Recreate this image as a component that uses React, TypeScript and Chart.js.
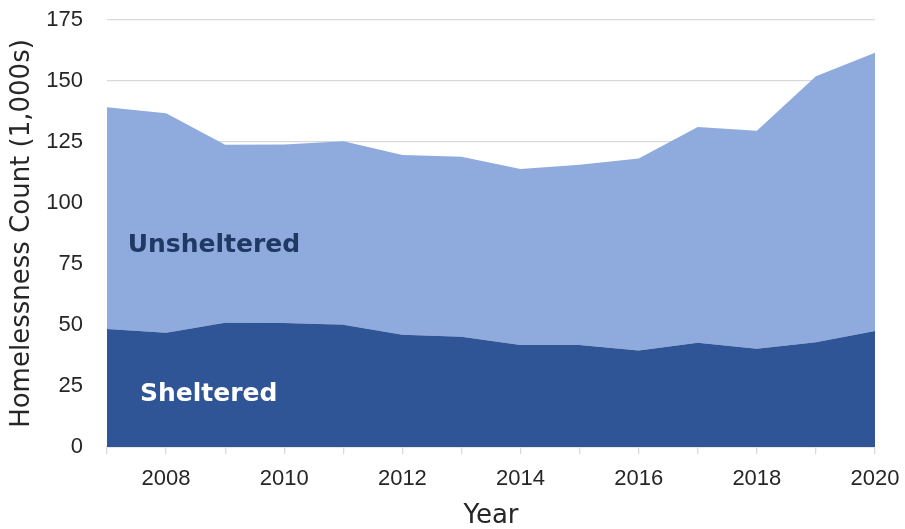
import React, { useEffect, useRef } from "react";
import { Chart, registerables } from "chart.js";

Chart.register(...registerables);

const years = ["2007", "2008", "2009", "2010", "2011", "2012", "2013", "2014", "2015", "2016", "2017", "2018", "2019", "2020"];
const sheltered = [48.4, 46.8, 50.9, 50.8, 50.1, 46.0, 45.2, 41.8, 41.8, 39.5, 42.7, 40.3, 42.9, 47.5];
const unsheltered = [90.8, 90.0, 73.0, 73.2, 75.2, 73.7, 73.8, 72.1, 73.9, 78.7, 88.4, 89.3, 109.0, 114.1];
const yTicks = [0, 25, 50, 75, 100, 125, 150, 175];
const areaLabels = [
  { text: "Unsheltered", x: 1.81, y: 82.6, color: "#1F3864" },
  { text: "Sheltered", x: 1.72, y: 21.5, color: "#FFFFFF" },
];

const labelPlugin = {
  id: "areaLabels",
  afterDatasetsDraw(chart: any) {
    const { ctx, scales } = chart;
    ctx.save();
    ctx.font = "bold 25px 'DejaVu Sans'";
    ctx.textAlign = "center";
    ctx.textBaseline = "middle";
    for (const l of areaLabels) {
      ctx.fillStyle = l.color;
      ctx.fillText(l.text, scales.x.getPixelForValue(l.x), scales.y.getPixelForValue(l.y));
    }
    ctx.restore();
  },
};

export default function App() {
  const ref = useRef<HTMLCanvasElement>(null);
  useEffect(() => {
    if (!ref.current) return;
    const chart = new Chart(ref.current, {
      type: "line",
      data: {
        labels: years,
        datasets: [
          {
            label: "Sheltered",
            data: sheltered,
            backgroundColor: "#2F5597",
            borderWidth: 0,
            pointRadius: 0,
            fill: "origin",
            tension: 0,
          },
          {
            label: "Unsheltered",
            data: unsheltered,
            backgroundColor: "#8FAADC",
            borderWidth: 0,
            pointRadius: 0,
            fill: "-1",
            tension: 0,
          },
        ],
      },
      options: {
        animation: false,
        responsive: true,
        maintainAspectRatio: false,
        layout: { padding: { left: 0, right: 30, top: 20, bottom: 0 } },
        plugins: { legend: { display: false }, tooltip: { enabled: false } },
        scales: {
          x: {
            offset: false,
            grid: { display: true, drawOnChartArea: false, drawTicks: true, tickLength: 7, color: "#D9D9D9", lineWidth: 1.3 },
            border: { display: true, color: "#D9D9D9", width: 1.5 },
            ticks: {
              autoSkip: false,
              maxRotation: 0,
              padding: 12,
              color: "#262626",
              font: { family: "'Liberation Sans'", size: 22 },
              callback: (_v: any, i: number) => (Number(years[i]) % 2 === 0 ? years[i] : ""),
            },
            title: { display: true, text: "Year", color: "#262626", font: { family: "'DejaVu Sans'", size: 26, lineHeight: 1 }, padding: 0 },
            afterFit: (s: any) => { s.height = 82; s.paddingLeft = 0; s.paddingRight = 0; },
          },
          y: {
            stacked: true,
            min: 0,
            max: 175,
            afterBuildTicks: (s: any) => { s.ticks = yTicks.map((v) => ({ value: v })); },
            grid: { color: "#D9D9D9", lineWidth: 1.3, drawTicks: false },
            border: { display: false },
            ticks: { padding: 24, color: "#262626", font: { family: "'Liberation Sans'", size: 22 } },
            title: { display: true, text: "Homelessness Count (1,000s)", color: "#262626", font: { family: "'DejaVu Sans'", size: 26, lineHeight: 1 }, padding: { top: 9, bottom: 0 } },
            afterFit: (s: any) => { s.width = 107; s.paddingTop = 0; s.paddingBottom = 0; },
          },
        },
      },
      plugins: [labelPlugin],
    });
    return () => chart.destroy();
  }, []);
  return (
    <div style={{ position: "fixed", left: 0, top: 0, width: 905, height: 529 }}>
      <canvas ref={ref} />
    </div>
  );
}
